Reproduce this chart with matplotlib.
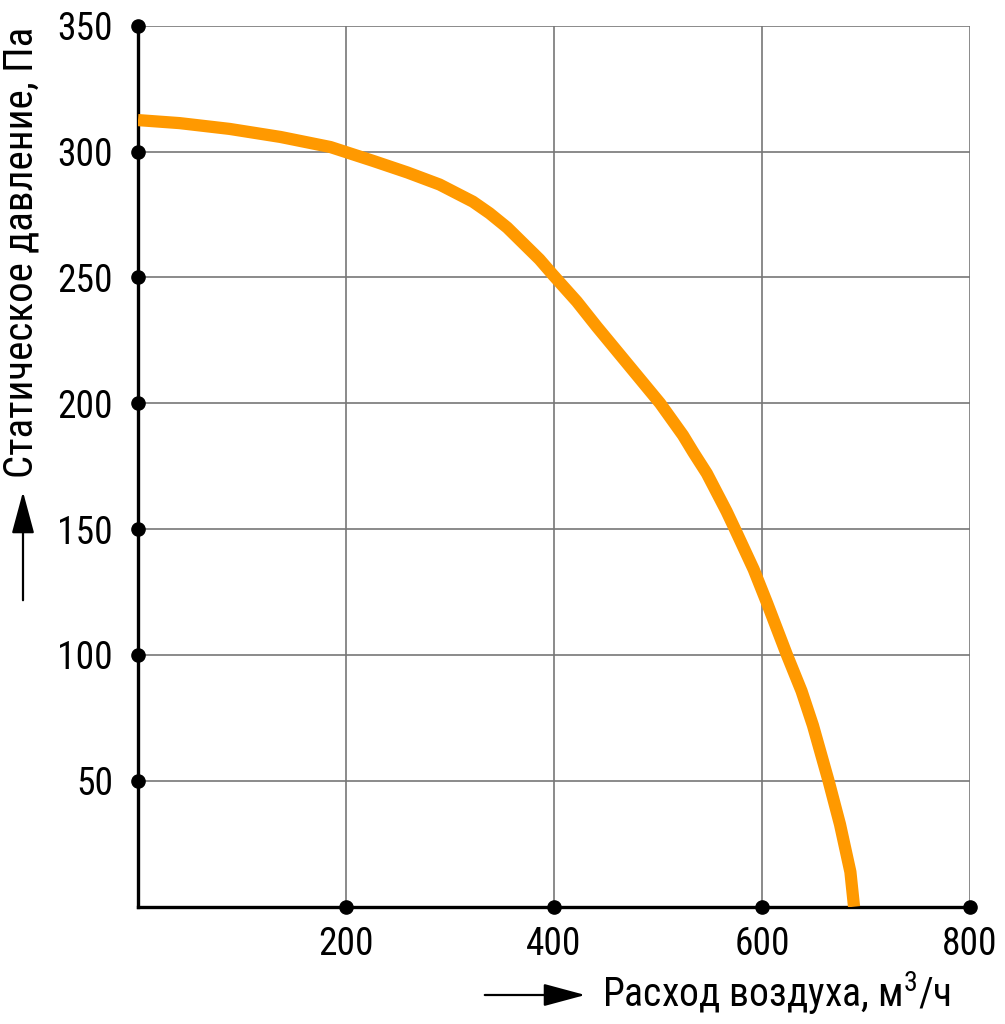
import matplotlib
matplotlib.use("Agg")
import matplotlib.pyplot as plt
from matplotlib import font_manager
from matplotlib.patches import FancyArrowPatch

# ---------- Data ----------
flow = [0, 40, 88, 137, 185, 226, 259, 290, 322, 338, 355, 370, 386, 399,
        422, 441, 451, 478, 502, 524, 534, 547, 566, 574, 592, 605,
        624, 638, 649, 664, 675, 685, 688.5]
pressure = [312.5, 311.3, 309, 305.8, 301.8, 296.3, 291.7, 286.9, 280.1, 275.5, 269.8, 263.7, 257.2, 251,
            240.4, 230.5, 225.5, 212, 200, 187.3, 180.5, 172.1, 157, 150, 134, 120.5,
            100, 85.7, 72, 50, 32.7, 13.8, 0]

x_ticks = [200, 400, 600, 800]
y_ticks = [50, 100, 150, 200, 250, 300, 350]
x_label = "Расход воздуха, м$^3$/ч"
y_label = "Статическое давление, Па"

# ---------- Font ----------
available = {f.name for f in font_manager.fontManager.ttflist}
FONT = "DejaVu Sans"
for name in ["Liberation Sans Narrow", "Roboto Condensed", "Roboto", "Liberation Sans"]:
    if name in available:
        FONT = name
        break
plt.rcParams["font.family"] = [FONT, "DejaVu Sans"]
plt.rcParams["mathtext.fontset"] = "custom"
plt.rcParams["mathtext.rm"] = FONT

W, H = 1005, 1024
fig = plt.figure(figsize=(W / 100, H / 100), dpi=100)

def fx(px):
    return px / W

def fy(py):
    return 1 - py / H

left, right, top, bottom = 138, 970, 25.7, 906.7
ax = fig.add_axes([fx(left), fy(bottom), fx(right - left), (bottom - top) / H])

ax.set_xlim(0, 800)
ax.set_ylim(0, 350)
ax.set_xticks(x_ticks)
ax.set_yticks(y_ticks)
ax.set_xticklabels([str(v) for v in x_ticks])
ax.set_yticklabels([str(v) for v in y_ticks])
ax.tick_params(length=0, labelsize=27, colors="black")
ax.tick_params(axis="x", pad=14)
ax.tick_params(axis="y", pad=18)

ax.grid(True, color="#777777", linewidth=1.2)
ax.set_axisbelow(True)
for s in ["top", "right"]:
    ax.spines[s].set_visible(False)
for s in ["left", "bottom"]:
    ax.spines[s].set_linewidth(2.4)
    ax.spines[s].set_color("black")

ax.plot(flow, pressure, color="#FF9900", linewidth=8.8, solid_capstyle="butt",
        solid_joinstyle="round", zorder=3)

# dots on axes at tick positions
ax.plot([0] * len(y_ticks), y_ticks, "o", color="black", markersize=9.5, clip_on=False, zorder=5)
ax.plot(x_ticks, [0] * len(x_ticks), "o", color="black", markersize=9.5, clip_on=False, zorder=5)

# axis labels with arrows
fig.text(fx(602), fy(1007), x_label, fontsize=28.5, ha="left", va="baseline")
fig.text(fx(40), fy(478), y_label, fontsize=29.5, rotation=90, ha="left", va="bottom",
         rotation_mode="anchor")

arrow = dict(arrowstyle="-|>,head_length=1.3,head_width=0.35", color="black", linewidth=1.6)
fig.add_artist(FancyArrowPatch((fx(482), fy(995)), (fx(588), fy(995)),
                               transform=fig.transFigure, mutation_scale=20, **arrow))
fig.add_artist(FancyArrowPatch((fx(23), fy(603)), (fx(23), fy(489)),
                               transform=fig.transFigure, mutation_scale=20, **arrow))

fig.savefig("out.png", dpi=100, facecolor="white")
